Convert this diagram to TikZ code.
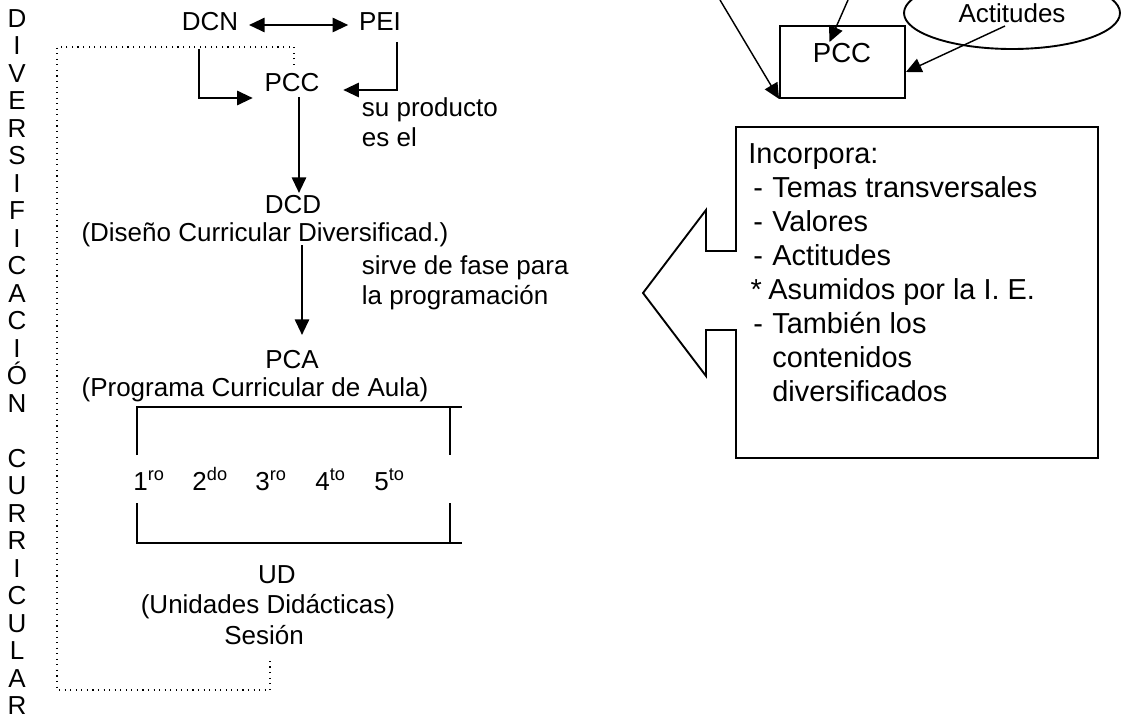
\documentclass[tikz,border=0pt]{standalone}
\usepackage{fontspec}
\setmainfont{Liberation Sans}
\usetikzlibrary{arrows.meta,calc,positioning,shapes.geometric}

\begin{document}
\begin{tikzpicture}[x=0.45pt,y=-0.45pt,
  lft/.style={font=\fontsize{11.7}{13.5}\selectfont,inner sep=2pt},
  rgt/.style={font=\fontsize{13}{15.3}\selectfont,inner sep=0pt},
  arr/.style={line width=0.65pt,-{Triangle[length=7pt,width=6.5pt]}},
  dbl/.style={line width=0.65pt,{Triangle[length=7pt,width=6.5pt]}-{Triangle[length=7pt,width=6.5pt]}},
  dots/.style={line width=0.5pt,dotted},
  frame/.style={line width=0.85pt}]
\useasboundingbox (0,0) rectangle (1121,718);
\clip (0,0) rectangle (1121,718);

% left column
\node[inner sep=0pt,align=center,font=\fontsize{11.7}{12.375}\selectfont] (diver) at (17,362)
  {D\\I\\V\\E\\R\\S\\I\\F\\I\\C\\A\\C\\I\\Ó\\N\\\mbox{}\\C\\U\\R\\R\\I\\C\\U\\L\\A\\R};

\coordinate (dtl) at (57,47);
\coordinate (dbl) at (57,690);

\node[lft] (dcn) at (210,22) {DCN};
\node[lft] (pei) at (380,22) {PEI};
\node[lft] (pcc) at (292,83) {PCC};
\node[lft,anchor=west,align=left] (prod) at (357,122) {su producto\\es el};
\node[lft] (dcd) at (293,205) {DCD};
\node[lft] (dcdname) at (265,235) {(Diseño Curricular Diversificad.)};
\node[lft,anchor=west,align=left] (fase) at (357,283) {sirve de fase para\\la programación};
\node[lft] (pca) at (292,360) {PCA};
\node[lft] (pcaname) at (255,390) {(Programa Curricular de Aula)};

\node[lft,anchor=base west,inner sep=0pt] (g1) at (133,490) {1\textsuperscript{ro}};
\node[lft,anchor=base west,inner sep=0pt] (g2) at (192,490) {2\textsuperscript{do}};
\node[lft,anchor=base west,inner sep=0pt] (g3) at (255,490) {3\textsuperscript{ro}};
\node[lft,anchor=base west,inner sep=0pt] (g4) at (315,490) {4\textsuperscript{to}};
\node[lft,anchor=base west,inner sep=0pt] (g5) at (374,490) {5\textsuperscript{to}};

\node[lft] (ud) at (277,575) {UD};
\node[lft] (udname) at (268,607) {(Unidades Didácticas)};
\node[lft] (sesion) at (264,635) {Sesión};

\draw[dbl] ($(dcn.east)+(6,3)$) -- ($(pei.west)+(-6,3)$);
\draw[arr] ($(dcn.south)+(-11,13)$) |- ($(pcc.west)+(-7,15)$);
\draw[arr] ($(pei.south)+(17,6)$) |- ($(pcc.east)+(19,7)$);
\draw[arr] ($(pcc.south)+(7,0)$) -- ($(dcd.north)+(6,2)$);
\draw[arr] ($(dcdname.south -| dcd)+(9,-7)$) -- ($(pca.north)+(10,-11)$);

\draw[dots] ($(pcc.north)+(2,-4)$) |- (dtl) -- (dbl) -| ($(sesion.south)+(6,9)$);

% grades bracket
\draw[frame] (137,455) |- (462,407);
\draw[frame] (450,407) -- (450,455);
\draw[frame] (137,503) |- (462,543);
\draw[frame] (450,503) -- (450,543);

% right part
\node[draw,frame,minimum width=56.25pt,minimum height=32.4pt] (pccbox) at (842.5,62) {};
\node[rgt,font=\fontsize{12.4}{14}\selectfont] (pcctxt) at (842,53) {PCC};
\node[draw,frame,ellipse,minimum width=97.2pt,minimum height=32.4pt,inner sep=0pt,
  font=\fontsize{11.7}{13.5}\selectfont] (act) at (1012,13) {Actitudes};

\coordinate (srca) at (720,0);
\coordinate (srcb) at (848,0);
\draw[arr] (srca) -- (pccbox.south west);
\draw[arr] (srcb) -- ($(pccbox.north)+(-13,17)$);
\draw[arr] ($(act.center)+(-7,13)$) -- ($(pccbox.east)+(0,10)$);

\draw[frame] (736,127) -- (1098,127) -- (1098,458) -- (736,458) -- (736,330) -- (706,330)
  -- (706,376) -- (643,293) -- (706,210) -- (706,251) -- (736,251) -- cycle;

\node[rgt,anchor=north west,align=left] (incorp) at (748,143)
  {Incorpora:\\
   \hspace*{2.25pt}\makebox[8.5pt][l]{-}Temas transversales\\
   \hspace*{2.25pt}\makebox[8.5pt][l]{-}Valores\\
   \hspace*{2.25pt}\makebox[8.5pt][l]{-}Actitudes\\
   \hspace*{1pt}\makebox[8pt][l]{*}Asumidos por la I. E.\\
   \hspace*{2.25pt}\makebox[8.5pt][l]{-}También los\\
   \hspace*{10.75pt}contenidos\\
   \hspace*{10.75pt}diversificados};

\end{tikzpicture}
\end{document}
